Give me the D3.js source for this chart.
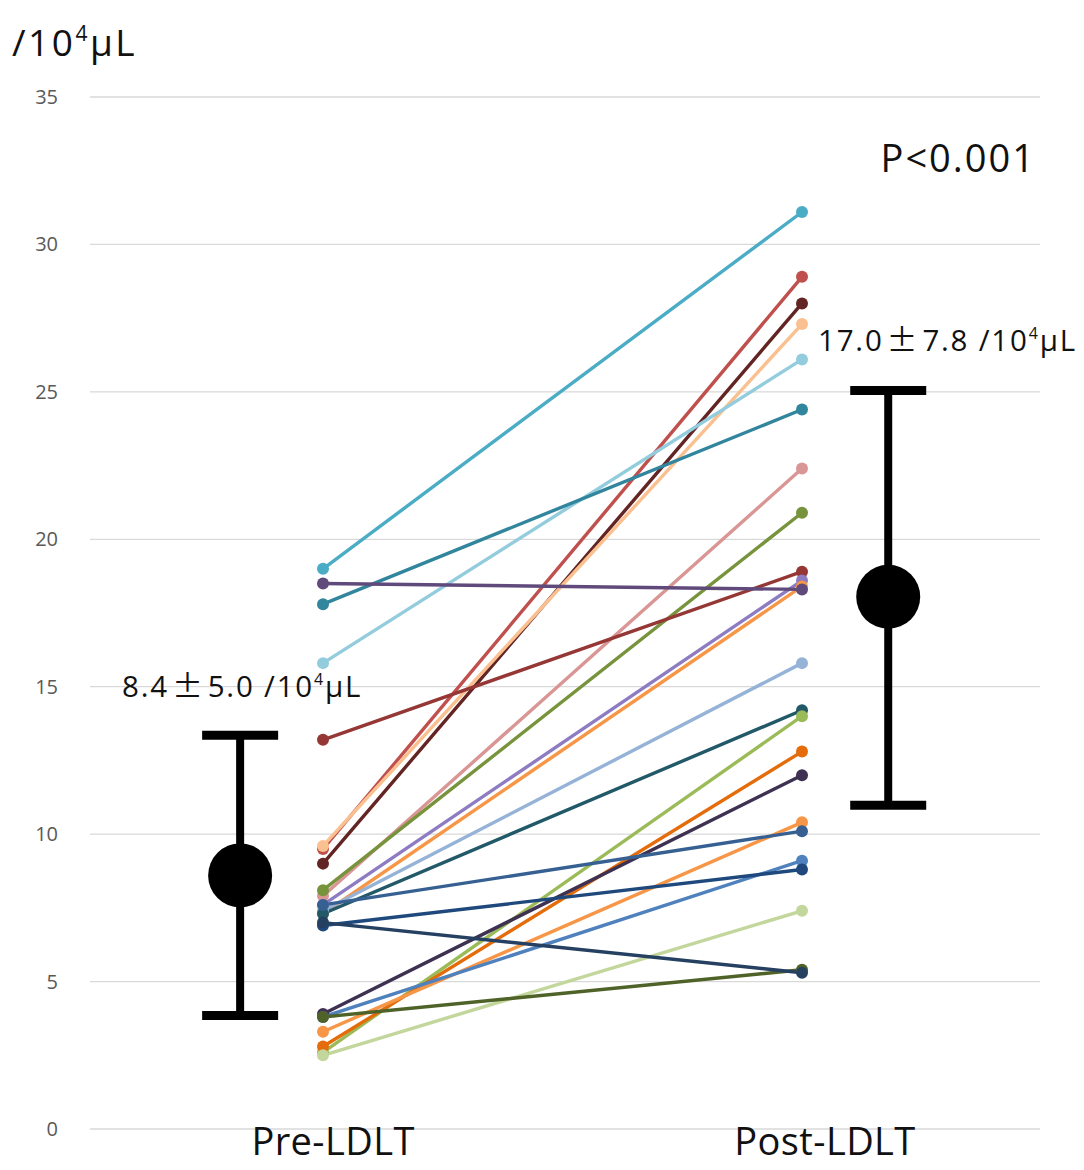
<!DOCTYPE html>
<html><head><meta charset="utf-8">
<script src="https://cdn.jsdelivr.net/npm/d3@7"></script>
<style>body{margin:0;background:#fff}svg{display:block}</style>
</head><body>
<svg id="c" width="1084" height="1170"></svg>
<script>
// ---- data ----
const categories = ["Pre-LDLT", "Post-LDLT"];
const preValues  = [19.0, 9.5, 9.0, 9.6, 15.8, 17.8, 7.9, 8.1, 13.2, 7.6, 7.3, 18.5, 7.4, 7.3, 2.6, 2.8, 3.9, 3.3, 7.6, 3.8, 6.9, 2.5, 3.8, 7.0];
const postValues = [31.1, 28.9, 28.0, 27.3, 26.1, 24.4, 22.4, 20.9, 18.9, 18.6, 18.4, 18.3, 15.8, 14.2, 14.0, 12.8, 12.0, 10.4, 10.1, 9.1, 8.8, 7.4, 5.4, 5.3];
const lineColors = ["#4BACC6", "#C0504D", "#632523", "#FAC090", "#93CDDD", "#31859C", "#D99694", "#77933C", "#953735", "#8E7CC3", "#F79646", "#604A7B", "#95B3D7", "#215968", "#9BBB59", "#E46C0A", "#3F3151", "#F79646", "#376092", "#4F81BD", "#1F497D", "#C3D69B", "#4F6228", "#254061"];
const meanValues  = [8.6, 18.05];
const lowerValues = [3.85, 10.98];
const upperValues = [13.35, 25.05];
const meanText = [["8.4", "5.0"], ["17.0", "7.8"]];
const yTicks = [0, 5, 10, 15, 20, 25, 30, 35];
const pLabel = "P<0.001";

// ---- layout ----
const svg = d3.select("#c");
const y = d3.scaleLinear().domain([0, 35]).range([1129, 97]);
const x = d3.scaleLinear().domain([0, 1]).range([323, 802]);
const meanPos = [-0.173, 1.18];
const labelPos = [0.021, 1.048];
const font = "'Open Sans', 'Noto Sans', sans-serif";
const cjk = "'Noto Sans CJK JP', sans-serif";

// grid
svg.append("g").selectAll("line").data(yTicks).join("line")
  .attr("x1", 90).attr("x2", 1040)
  .attr("y1", d => y(d)).attr("y2", d => y(d))
  .attr("stroke", "#d9d9d9").attr("stroke-width", 1.3);

// y tick labels
svg.append("g").selectAll("text").data(yTicks).join("text")
  .attr("x", 58).attr("y", d => y(d)).attr("dy", "0.35em")
  .attr("text-anchor", "end").attr("font-family", font)
  .attr("font-size", 20).attr("fill", "#595959").text(d => d);

// unit label
const unit = svg.append("text").attr("x", 12).attr("y", 56)
  .attr("font-family", font).attr("font-size", 37).attr("letter-spacing", 2.5).attr("fill", "#111");
unit.append("tspan").text("/10");
unit.append("tspan").attr("font-size", 21).attr("dy", -15).text("4");
unit.append("tspan").attr("dy", 15).text("μL");

// individual lines
const pairs = preValues.map((p, i) => ({pre: p, post: postValues[i], c: lineColors[i]}));
const g = svg.append("g");
g.selectAll("line").data(pairs).join("line")
  .attr("x1", x(0)).attr("x2", x(1))
  .attr("y1", d => y(d.pre)).attr("y2", d => y(d.post))
  .attr("stroke", d => d.c).attr("stroke-width", 3.4).attr("stroke-linecap", "round");
g.selectAll("circle.pre").data(pairs).join("circle").attr("class", "pre")
  .attr("cx", x(0)).attr("cy", d => y(d.pre)).attr("r", 6).attr("fill", d => d.c);
g.selectAll("circle.post").data(pairs).join("circle").attr("class", "post")
  .attr("cx", x(1)).attr("cy", d => y(d.post)).attr("r", 6).attr("fill", d => d.c);

// mean ± SD
const stats = meanValues.map((m, i) => ({m, lo: lowerValues[i], hi: upperValues[i], pos: meanPos[i]}));
const eb = svg.append("g");
eb.selectAll("line.v").data(stats).join("line").attr("class", "v")
  .attr("x1", d => x(d.pos)).attr("x2", d => x(d.pos))
  .attr("y1", d => y(d.lo)).attr("y2", d => y(d.hi))
  .attr("stroke", "#000").attr("stroke-width", 8);
eb.selectAll("line.hi").data(stats).join("line").attr("class", "hi")
  .attr("x1", d => x(d.pos) - 38).attr("x2", d => x(d.pos) + 38)
  .attr("y1", d => y(d.hi)).attr("y2", d => y(d.hi))
  .attr("stroke", "#000").attr("stroke-width", 9);
eb.selectAll("line.lo").data(stats).join("line").attr("class", "lo")
  .attr("x1", d => x(d.pos) - 38).attr("x2", d => x(d.pos) + 38)
  .attr("y1", d => y(d.lo)).attr("y2", d => y(d.lo))
  .attr("stroke", "#000").attr("stroke-width", 9);
eb.selectAll("circle").data(stats).join("circle")
  .attr("cx", d => x(d.pos)).attr("cy", d => y(d.m)).attr("r", 32).attr("fill", "#000");

// mean labels
const mlPos = [{x: 122, y: 697}, {x: 818, y: 351}];
meanText.forEach((t, i) => {
  const tx = svg.append("text").attr("x", mlPos[i].x).attr("y", mlPos[i].y)
    .attr("font-family", font).attr("font-size", 29.5).attr("letter-spacing", 1.8).attr("fill", "#111");
  tx.append("tspan").text(t[0]);
  tx.append("tspan").attr("font-family", cjk).attr("font-size", 31).attr("dx", 3).text("±");
  tx.append("tspan").attr("dx", 3).text(t[1] + " /10");
  tx.append("tspan").attr("font-size", 16).attr("dy", -12).text("4");
  tx.append("tspan").attr("dy", 12).text("μL");
});

// p label
svg.append("text").attr("x", 1036).attr("y", 172).attr("text-anchor", "end")
  .attr("font-family", font).attr("font-size", 38).attr("letter-spacing", 2).attr("fill", "#111").text(pLabel);

// category labels
svg.append("g").selectAll("text").data(categories).join("text")
  .attr("x", (d, i) => x(labelPos[i])).attr("y", 1155)
  .attr("text-anchor", "middle").attr("font-family", font)
  .attr("font-size", 38).attr("letter-spacing", 0.4).attr("fill", "#111").text(d => d);
</script>
</body></html>
